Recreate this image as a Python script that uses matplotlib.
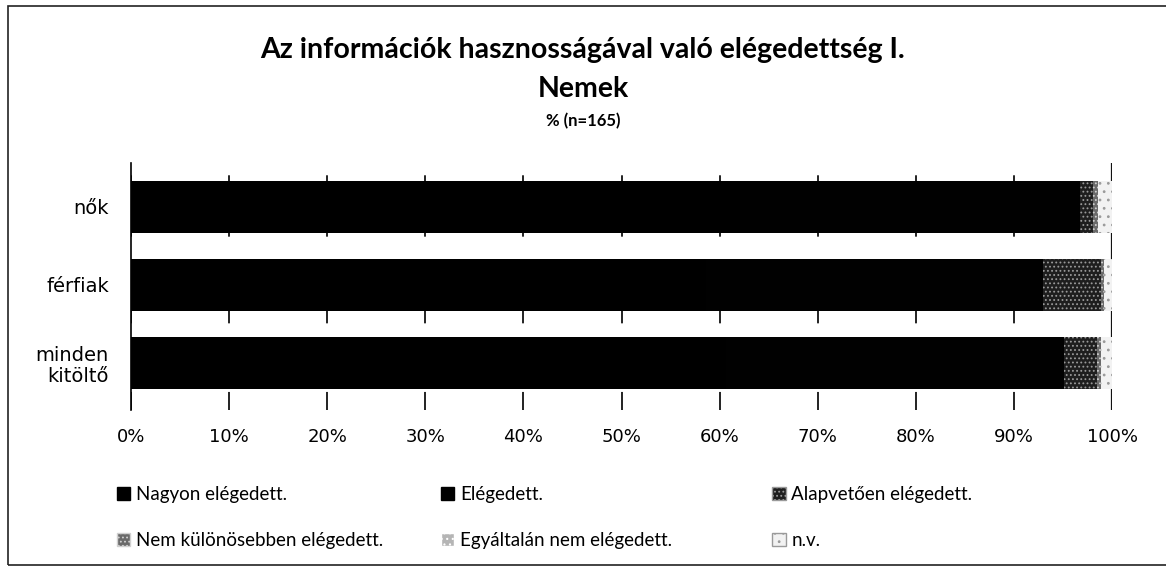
#!/usr/bin/env python3
"""
Satisfaction with usefulness of information, by gender (stacked 100% bars)
"""

import matplotlib
matplotlib.use('Agg')
import matplotlib.pyplot as plt
from matplotlib.patches import Patch, Rectangle
import numpy as np

# data (% of respondents)
categories = ['nők', 'férfiak', 'minden\nkitöltő']
series_names = ['Nagyon elégedett.', 'Elégedett.', 'Alapvetően elégedett.',
                'Nem különösebben elégedett.', 'Egyáltalán nem elégedett.', 'n.v.']
nagyon = [62.1, 58.6, 60.6]
elegedett = [34.6, 34.4, 34.5]
alapvetoen = [1.4, 5.9, 3.4]
nem_kulonosebben = [0.5, 0.3, 0.4]
egyaltalan = [0.0, 0.0, 0.0]
nv = [1.4, 0.8, 1.1]
x_ticks = [0, 10, 20, 30, 40, 50, 60, 70, 80, 90, 100]

title_lines = ['Az információk hasznosságával való elégedettség I.', 'Nemek', '% (n=165)']

series = [nagyon, elegedett, alapvetoen, nem_kulonosebben, egyaltalan, nv]
styles = [
    dict(facecolor='#000000', edgecolor='#000000', hatch=None),
    dict(facecolor='#010101', edgecolor='#010101', hatch=None),
    dict(facecolor='#1e1e1e', edgecolor='#9a9a9a', hatch='....'),
    dict(facecolor='#6a6a6a', edgecolor='#d0d0d0', hatch='....'),
    dict(facecolor='#b5b5b5', edgecolor='#ffffff', hatch='...'),
    dict(facecolor='#f2f2f2', edgecolor='#9a9a9a', hatch='..'),
]

title_font = ['Lato', 'DejaVu Sans']

plt.rcParams['hatch.linewidth'] = 0.8

fig = plt.figure(figsize=(11.66, 5.67), dpi=100)
ax = fig.add_axes([0.1124, 0.2769, 0.8413, 0.4356])

y = np.arange(len(categories))
left = np.zeros(len(categories))
for vals, st in zip(series, styles):
    vals = np.array(vals)
    ax.barh(y, vals, left=left, height=0.66, linewidth=0, zorder=3, **st)
    left += vals

ax.set_xlim(0, 100)
ax.set_ylim(2.6, -0.56)
ax.set_xticks(x_ticks)
ax.set_xticklabels([f'{t}%' for t in x_ticks], fontsize=13)
ax.set_yticks(y)
ax.set_yticklabels(categories, fontsize=14, linespacing=1.1)
ax.tick_params(axis='both', length=0)
ax.tick_params(axis='x', pad=13)
ax.tick_params(axis='y', pad=16)
ax.grid(axis='x', color='#111111', linewidth=1.3, linestyle=(0, (10, 14)), zorder=0)
for side in ['top', 'bottom', 'right']:
    ax.spines[side].set_visible(False)
ax.spines['left'].set_linewidth(1.2)
ax.axvline(100, color='#111111', linewidth=1.6, zorder=1)

# titles
fig.text(0.5, 0.911, title_lines[0], ha='center', va='center', fontsize=20.5,
         fontweight='bold', family=title_font)
fig.text(0.5, 0.843, title_lines[1], ha='center', va='center', fontsize=20.5,
         fontweight='bold', family=title_font)
fig.text(0.5, 0.787, title_lines[2], ha='center', va='center', fontsize=12,
         fontweight='bold', family=title_font)

# legend in three columns of two rows each
handles = [Patch(**st) for st in styles]
col_x = [0.086, 0.364, 0.648]
for c in range(3):
    idx = [c, c + 3]
    fig.legend([handles[i] for i in idx], [series_names[i] for i in idx],
               loc='upper left', bbox_to_anchor=(col_x[c], 0.172),
               frameon=False, ncol=1, handlelength=0.7, handleheight=0.7,
               handletextpad=0.3, labelspacing=1.55,
               prop={'family': title_font, 'size': 13.5})

# outer frame of the chart
fig.patches.append(Rectangle((0.007, 0.004), 0.995, 0.985, transform=fig.transFigure,
                             fill=False, edgecolor='#222222', linewidth=1.2))

plt.savefig('out.png', dpi=100)
plt.close()
